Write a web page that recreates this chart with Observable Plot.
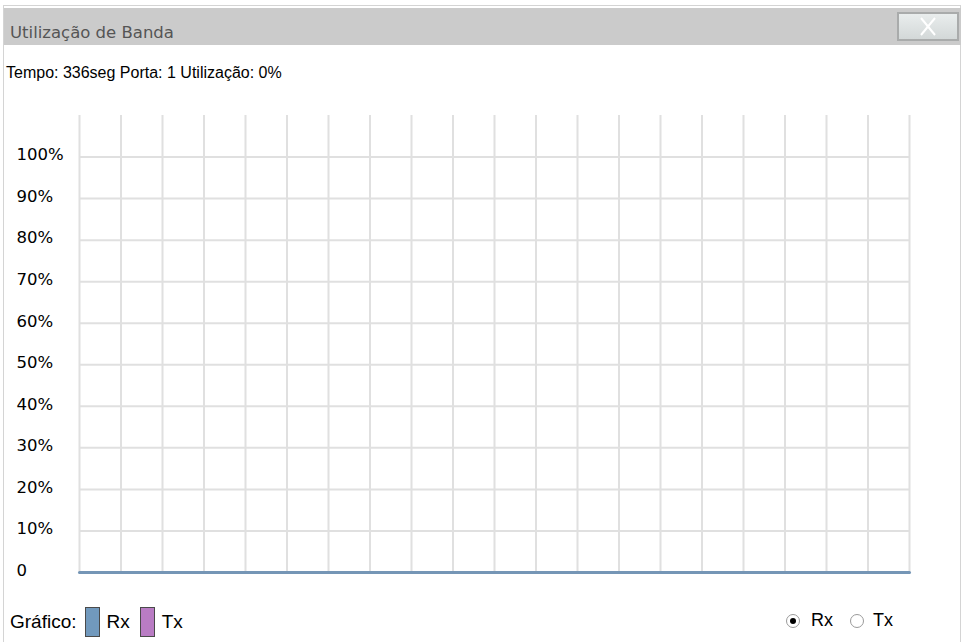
<!DOCTYPE html>
<html>
<head>
<meta charset="utf-8">
<script src="https://cdn.jsdelivr.net/npm/d3@7"></script>
<script src="https://cdn.jsdelivr.net/npm/@observablehq/plot@0.6"></script>
<style>
  html, body { margin: 0; padding: 0; background: #fff; width: 967px; height: 642px; overflow: hidden; }
  body { position: relative; font-family: "Liberation Sans", Arial, sans-serif; color: #000; }
  .abs { position: absolute; }
  #frame { left: 3px; top: 5px; width: 958px; height: 660px; border: 1px solid #d4d4d4; box-sizing: border-box; }
  #titlebar { left: 4px; top: 8px; width: 957px; height: 37px; background: #cbcbcb; }
  #title { left: 10px; top: 23px; font-family: "DejaVu Sans", sans-serif; font-size: 16.5px; color: #555; white-space: nowrap; }
  #close { left: 897px; top: 12px; width: 62px; height: 29px; box-sizing: border-box; border: 2px solid #a9abab; background: linear-gradient(#e9eded, #d3d8d8); }
  #subtitle { left: 6px; top: 64px; font-size: 16px; white-space: nowrap; }
  #chart { left: 0px; top: 100px; }
  #legend { left: 10px; top: 607px; height: 30px; display: flex; align-items: center; font-size: 19px; white-space: nowrap; }
  .sw { display: inline-block; width: 15px; height: 30px; box-sizing: border-box; border: 1.5px solid #4a4a4a; }
  #radios { left: 786px; top: 610px; font-size: 18px; display: flex; align-items: center; white-space: nowrap; }
  .radio { display: inline-block; width: 14px; height: 14px; border-radius: 50%; box-sizing: border-box; border: 1px solid #9a9a9a; background: #fff; position: relative; }
  .radio.on::after { content: ""; position: absolute; left: 3px; top: 3px; width: 6px; height: 6px; border-radius: 50%; background: #000; }
</style>
</head>
<body>
<div id="frame" class="abs"></div>
<div id="titlebar" class="abs"></div>
<div id="title" class="abs">Utilização de Banda</div>
<div id="close" class="abs">
  <svg width="58" height="25" style="display:block">
    <line x1="22" y1="4" x2="36" y2="21" stroke="#fff" stroke-width="2"/>
    <line x1="36" y1="4" x2="22" y2="21" stroke="#fff" stroke-width="2"/>
  </svg>
</div>
<div id="subtitle" class="abs">Tempo: 336seg Porta: 1 Utilização: 0%</div>
<div id="chart" class="abs"></div>
<div id="legend" class="abs">
  <span>Gráfico:</span>
  <span class="sw" style="background:#7199bd;margin-left:8px"></span>
  <span style="margin-left:7px">Rx</span>
  <span class="sw" style="background:#b97cc4;margin-left:10px"></span>
  <span style="margin-left:7px">Tx</span>
</div>
<div id="radios" class="abs">
  <span class="radio on"></span><span style="margin-left:11px">Rx</span>
  <span class="radio" style="margin-left:17px"></span><span style="margin-left:9px">Tx</span>
</div>
<script>
// Data
const times = [0, 1, 2, 3, 4, 5, 6, 7, 8, 9, 10, 11, 12, 13, 14, 15, 16, 17, 18, 19, 20];
const rxValues = [0, 0, 0, 0, 0, 0, 0, 0, 0, 0, 0, 0, 0, 0, 0, 0, 0, 0, 0, 0, 0];
const txValues = [0, 0, 0, 0, 0, 0, 0, 0, 0, 0, 0, 0, 0, 0, 0, 0, 0, 0, 0, 0, 0];
const yTicks = [0, 10, 20, 30, 40, 50, 60, 70, 80, 90, 100];
const yTickLabels = ["0", "10%", "20%", "30%", "40%", "50%", "60%", "70%", "80%", "90%", "100%"];
const seriesNames = ["Rx", "Tx"];
const selectedSeries = "Rx";

const rows = times.map((t, i) => ({t, v: selectedSeries === "Rx" ? rxValues[i] : txValues[i]}));
const labelOf = new Map(yTicks.map((v, i) => [v, yTickLabels[i]]));

const chart = Plot.plot({
  width: 960,
  height: 490,
  marginLeft: 79,
  marginRight: 51,
  marginTop: 15,
  marginBottom: 18,
  style: {fontFamily: "'DejaVu Sans', sans-serif", background: "transparent", overflow: "visible"},
  x: {domain: [0, 20], axis: null},
  y: {domain: [0, 110], axis: null},
  marks: [
    Plot.ruleX(times, {x: d => d, y1: 0, y2: 110, stroke: "#e0e0e0", strokeWidth: 2}),
    Plot.ruleY(yTicks.filter(d => d > 0), {y: d => d, x1: 0, x2: 20, stroke: "#e0e0e0", strokeWidth: 2}),
    Plot.axisY({
      ticks: yTicks,
      tickFormat: d => labelOf.get(d),
      tickSize: 0,
      tickPadding: 0,
      label: null,
      textAnchor: "start",
      dx: -63,
      dy: -2,
      fontSize: 16.5,
      fill: "#000"
    }),
    Plot.line(rows, {x: "t", y: "v", stroke: "#7596b6", strokeWidth: 3})
  ]
});
document.getElementById("chart").appendChild(chart);
</script>
</body>
</html>
